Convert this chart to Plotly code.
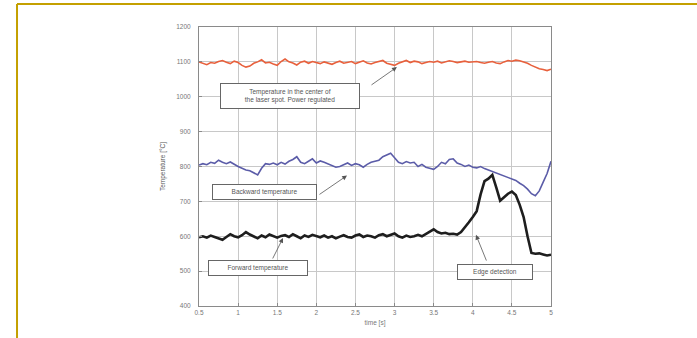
import plotly.graph_objects as go

# ---- data ----
time_s = [0.50, 0.55, 0.60, 0.65, 0.70, 0.75, 0.80, 0.85, 0.90, 0.95,
          1.00, 1.05, 1.10, 1.15, 1.20, 1.25, 1.30, 1.35, 1.40, 1.45,
          1.50, 1.55, 1.60, 1.65, 1.70, 1.75, 1.80, 1.85, 1.90, 1.95,
          2.00, 2.05, 2.10, 2.15, 2.20, 2.25, 2.30, 2.35, 2.40, 2.45,
          2.50, 2.55, 2.60, 2.65, 2.70, 2.75, 2.80, 2.85, 2.90, 2.95,
          3.00, 3.05, 3.10, 3.15, 3.20, 3.25, 3.30, 3.35, 3.40, 3.45,
          3.50, 3.55, 3.60, 3.65, 3.70, 3.75, 3.80, 3.85, 3.90, 3.95,
          4.00, 4.05, 4.10, 4.15, 4.20, 4.25, 4.30, 4.35, 4.40, 4.45,
          4.50, 4.55, 4.60, 4.65, 4.70, 4.75, 4.80, 4.85, 4.90, 4.95,
          5.00]

center_temp = [1100, 1097, 1092, 1098, 1096, 1101, 1104, 1099, 1095, 1102,
               1098, 1090, 1085, 1088, 1096, 1100, 1106, 1097, 1099, 1094,
               1090, 1101, 1108, 1100, 1097, 1091, 1099, 1102, 1096, 1101,
               1098, 1095, 1100, 1097, 1093, 1098, 1102, 1096, 1099, 1101,
               1095, 1100, 1103, 1097, 1094, 1098, 1102, 1104, 1096, 1092,
               1090, 1096, 1099, 1104, 1098, 1102, 1100, 1095, 1098, 1101,
               1099, 1102, 1097, 1100, 1103, 1101, 1098, 1100, 1102, 1099,
               1100, 1101, 1098, 1096, 1099, 1101, 1097, 1095, 1100, 1104,
               1102, 1105, 1103, 1100, 1096, 1090, 1084, 1080, 1078, 1075,
               1079]

backward_temp = [804, 808, 805, 812, 809, 818, 812, 808, 813, 806,
                 800, 795, 790, 788, 782, 776, 795, 808, 806, 810,
                 805, 812, 807, 815, 820, 828, 812, 808, 815, 822,
                 810, 816, 812, 808, 803, 798, 800, 806, 810, 803,
                 808, 805, 798, 806, 812, 815, 818, 828, 834, 838,
                 825, 812, 808, 814, 810, 812, 800, 806, 798, 795,
                 792, 800, 812, 808, 820, 822, 810, 806, 800, 804,
                 798, 796, 800, 794, 790, 786, 780, 776, 772, 768,
                 765, 760, 752, 745, 735, 722, 716, 730, 755, 780,
                 815]

forward_temp = [597, 600, 596, 602, 598, 594, 590, 598, 606, 600,
                597, 603, 612, 605, 600, 594, 602, 597, 605, 600,
                596, 601, 603, 598, 606, 600, 594, 602, 598, 604,
                600, 597, 602, 596, 600, 594, 599, 603, 598, 596,
                602, 605, 598, 602, 600, 596, 603, 606, 600, 604,
                608, 600, 596, 602, 598, 600, 604, 600, 606, 614,
                620, 612, 608, 610, 606, 607, 605, 612, 625, 640,
                655, 672, 720, 758, 765, 776, 740, 702, 712, 722,
                728, 718, 690, 655, 600, 552, 550, 551, 548, 545,
                547]

x_ticks = [0.5, 1, 1.5, 2, 2.5, 3, 3.5, 4, 4.5, 5]
x_tick_labels = ["0.5", "1", "1.5", "2", "2.5", "3", "3.5", "4", "4.5", "5"]
y_ticks = [400, 500, 600, 700, 800, 900, 1000, 1100, 1200]

# label boxes: text, centre x, centre y, width px, height px
box_texts = ["Temperature in the center of<br>the laser spot. Power regulated",
             "Backward temperature", "Forward temperature", "Edge detection"]
box_x = [1.663, 1.331, 1.254, 4.284]
box_y = [1002, 727, 509, 497]
box_w = [138, 103, 98, 74]
box_h = [24, 14, 14, 14]

# arrows: head (x, y) and tail (x, y) in data units
arrow_head_x = [3.03, 2.392, 1.574, 4.041]
arrow_head_y = [1085, 774, 595, 604]
arrow_tail_x = [2.686, 2.021, 1.433, 4.182]
arrow_tail_y = [1031, 717, 532, 526]

fig = go.Figure()
fig.add_trace(go.Scatter(x=time_s, y=center_temp, mode="lines",
                         line=dict(color="#e8603c", width=1.6), showlegend=False))
fig.add_trace(go.Scatter(x=time_s, y=backward_temp, mode="lines",
                         line=dict(color="#5b5ca8", width=1.6), showlegend=False))
fig.add_trace(go.Scatter(x=time_s, y=forward_temp, mode="lines",
                         line=dict(color="#1e1e1e", width=2.6), showlegend=False))

annotations = []
for t, bx, by, w, h in zip(box_texts, box_x, box_y, box_w, box_h):
    annotations.append(dict(x=bx, y=by, xref="x", yref="y", text=t, showarrow=False,
                            width=w, height=h, align="center",
                            font=dict(size=6.5, color="#555"),
                            bgcolor="white", bordercolor="#666", borderwidth=1, borderpad=0))
for hx, hy, tx, ty in zip(arrow_head_x, arrow_head_y, arrow_tail_x, arrow_tail_y):
    annotations.append(dict(x=hx, y=hy, xref="x", yref="y", ax=tx, ay=ty,
                            axref="x", ayref="y", text="", showarrow=True,
                            arrowhead=2, arrowsize=1.2, arrowwidth=0.8, arrowcolor="#555"))

gold = "#c4a000"
shapes = [
    dict(type="line", xref="paper", yref="paper", x0=-0.517, x1=1.42, y0=1.0824, y1=1.0824,
         line=dict(color=gold, width=2)),
    dict(type="line", xref="paper", yref="paper", x0=-0.517, x1=-0.517, y0=1.0824, y1=-0.12,
         line=dict(color=gold, width=2)),
]

fig.update_layout(
    width=697, height=338,
    margin=dict(l=199, r=146, t=27, b=32),
    paper_bgcolor="white", plot_bgcolor="white",
    font=dict(family="Liberation Sans, Arial, sans-serif", size=6, color="#777"),
    annotations=annotations, shapes=shapes,
    xaxis=dict(range=[0.5, 5], tickvals=x_ticks, ticktext=x_tick_labels,
               showgrid=True, gridcolor="#c8c8c8", gridwidth=1,
               showline=True, linecolor="#8a8a8a", linewidth=1, mirror=True,
               ticks="inside", ticklen=3, tickcolor="#8a8a8a",
               zeroline=False, tickfont=dict(size=6.5, color="#777"),
               title=dict(text="time [s]", font=dict(size=6.5, color="#777"), standoff=5)),
    yaxis=dict(range=[400, 1200], tickvals=y_ticks,
               showgrid=True, gridcolor="#c8c8c8", gridwidth=1,
               showline=True, linecolor="#8a8a8a", linewidth=1, mirror=True,
               ticks="inside", ticklen=3, tickcolor="#8a8a8a", ticklabelstandoff=6,
               zeroline=False, tickfont=dict(size=6.5, color="#777"),
               title=dict(text="Temperature [°C]", font=dict(size=6.5, color="#555"), standoff=9)),
)

fig.write_html("out.html", config={"displayModeBar": False},
               post_script="document.body.style.margin='0';document.body.style.overflow='hidden';")
